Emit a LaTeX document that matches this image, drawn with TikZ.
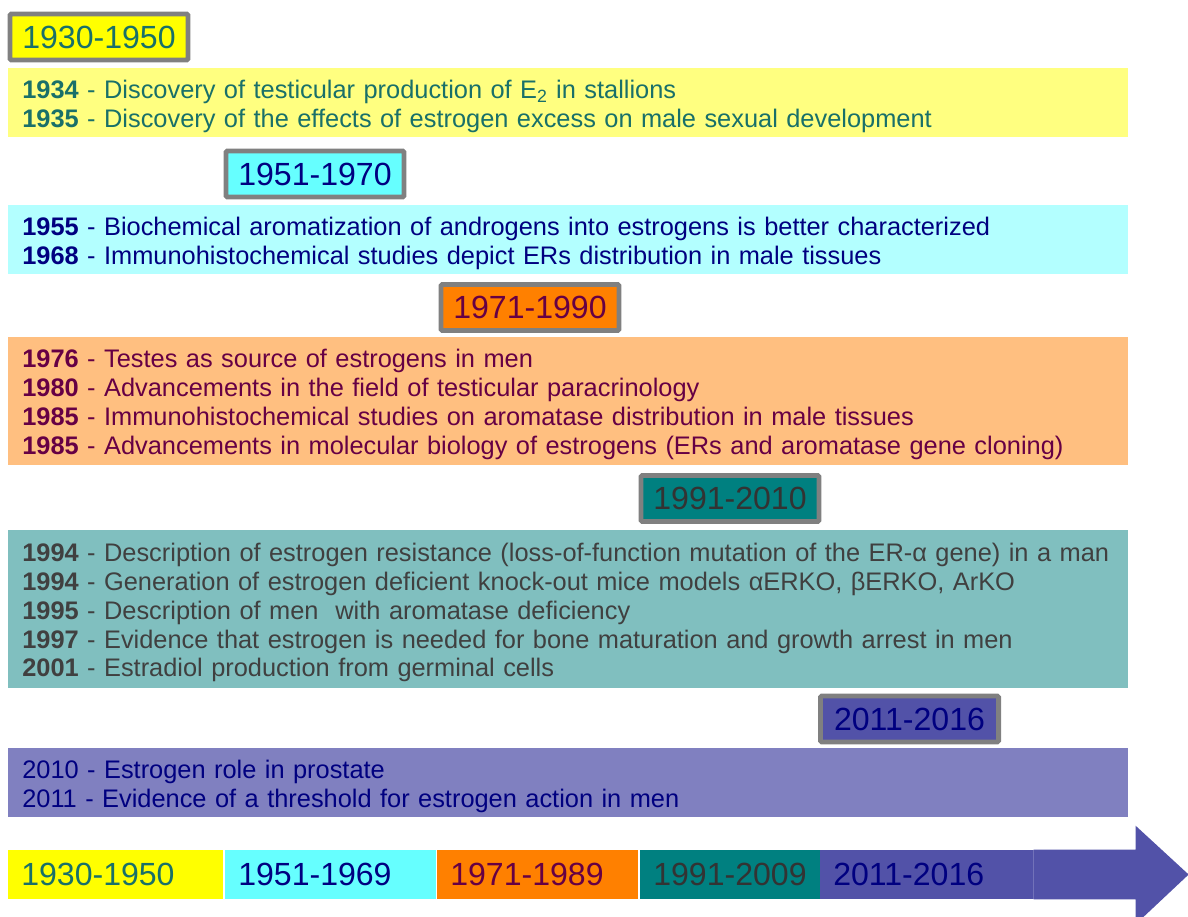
\documentclass[tikz,border=0pt]{standalone}
\usepackage{fontspec}
\setmainfont{Liberation Sans}
\usetikzlibrary{calc}

\definecolor{boxgray}{RGB}{128,128,128}
\definecolor{yelA}{RGB}{255,255,0}
\definecolor{yelB}{RGB}{255,255,128}
\definecolor{cyaA}{RGB}{102,255,255}
\definecolor{cyaB}{RGB}{179,255,255}
\definecolor{oraA}{RGB}{255,128,0}
\definecolor{oraB}{RGB}{255,191,128}
\definecolor{tealA}{RGB}{0,128,128}
\definecolor{tealB}{RGB}{128,191,191}
\definecolor{bluA}{RGB}{82,82,168}
\definecolor{bluB}{RGB}{128,128,192}
\definecolor{txtteal}{RGB}{25,112,105}
\definecolor{txtnavy}{RGB}{0,0,128}
\definecolor{txtplum}{RGB}{102,0,68}
\definecolor{txtgray}{RGB}{64,64,64}

% taller first line, pushes the text block a little down
\newcommand{\lift}{\rule{0pt}{18pt}}

\tikzset{
  period/.style={draw=boxgray, line width=3.5pt, rounded corners=1pt,
    minimum width=4.45cm, minimum height=1.15cm, inner sep=0pt,
    font=\fontsize{22.8}{26}\selectfont},
  band/.style={anchor=west, minimum width=27.975cm, text width=27.275cm,
    align=left, inner xsep=0.35cm, inner ysep=0pt,
    font=\fontsize{18.05}{20.6}\selectfont},
  seg/.style={anchor=west, minimum height=1.225cm, align=left,
    inner xsep=0.325cm, inner ysep=0pt,
    font=\fontsize{22.8}{26}\selectfont}
}

\begin{document}
\begin{tikzpicture}[x=0.025cm, y=-0.025cm]
  \useasboundingbox (0,0) rectangle (1188,916);

  % period headers
  \node[period, fill=yelA, text=txtteal] (h1) at (99,37) {1930-1950};
  \node[period, fill=cyaA, text=txtnavy] (h2) at (315,174) {1951-1970};
  \node[period, fill=oraA, text=txtplum] (h3) at (530,307.5) {1971-1990};
  \node[period, fill=tealA, text=black!80] (h4) at (730,498.5) {1991-2010};
  \node[period, fill=bluA, text=txtnavy] (h5) at (909.5,719) {2011-2016};

  % events
  \node[band, fill=yelB, text=txtteal, minimum height=1.725cm] (b1) at (8,102.5) {%
    \lift\textbf{1934} - Discovery of testicular production of E\textsubscript{2} in stallions\\
    \textbf{1935} - Discovery of the effects of estrogen excess on male sexual development};
  \node[band, fill=cyaB, text=txtnavy, minimum height=1.725cm] (b2) at (8,239.5) {%
    \lift\textbf{1955} - Biochemical aromatization of androgens into estrogens is better characterized\\
    \textbf{1968} - Immunohistochemical studies depict ERs distribution in male tissues};
  \node[band, fill=oraB, text=txtplum, minimum height=3.2cm] (b3) at (8,401) {%
    \lift\textbf{1976} - Testes as source of estrogens in men\\
    \textbf{1980} - Advancements in the field of testicular paracrinology\\
    \textbf{1985} - Immunohistochemical studies on aromatase distribution in male tissues\\
    \textbf{1985} - Advancements in molecular biology of estrogens (ERs and aromatase gene cloning)};
  \node[band, fill=tealB, text=txtgray, minimum height=3.95cm] (b4) at (8,609) {%
    \lift\textbf{1994} - Description of estrogen resistance (loss-of-function mutation of the ER-α gene) in a man\\
    \textbf{1994} - Generation of estrogen deficient knock-out mice models αERKO, βERKO, ArKO\\
    \textbf{1995} - Description of men \ with aromatase deficiency\\
    \textbf{1997} - Evidence that estrogen is needed for bone maturation and growth arrest in men\\
    \textbf{2001} - Estradiol production from germinal cells};
  \node[band, fill=bluB, text=txtnavy, minimum height=1.725cm] (b5) at (8,782.5) {%
    \lift 2010 - Estrogen role in prostate\\
    2011 - Evidence of a threshold for estrogen action in men};

  % time axis
  \node[seg, fill=yelA, text=txtteal, text width=4.725cm] (s1) at (8,874.5) {1930-1950};
  \node[seg, fill=cyaA, text=txtnavy, text width=4.625cm] (s2) at (225,874.5) {1951-1969};
  \node[seg, fill=oraA, text=txtplum, text width=4.375cm] (s3) at (437,874.5) {1971-1989};
  \node[seg, fill=tealA, text=black!80, text width=3.85cm] (s4) at (640,874.5) {1991-2009};
  \node[seg, fill=bluA, text=txtnavy, text width=4.675cm] (s5) at (820,874.5) {2011-2016};
  \fill[bluA] (s5.north east) -- ++(102,0) -- ++(0,-24) -- ($(s5.east)+(155,0)$)
    -- ($(s5.south east)+(102,25)$) -- ++(0,-25) -- (s5.south east) -- cycle;
  \draw[bluB!70!bluA, line width=0.4pt] (s5.north east) -- (s5.south east);
\end{tikzpicture}
\end{document}
